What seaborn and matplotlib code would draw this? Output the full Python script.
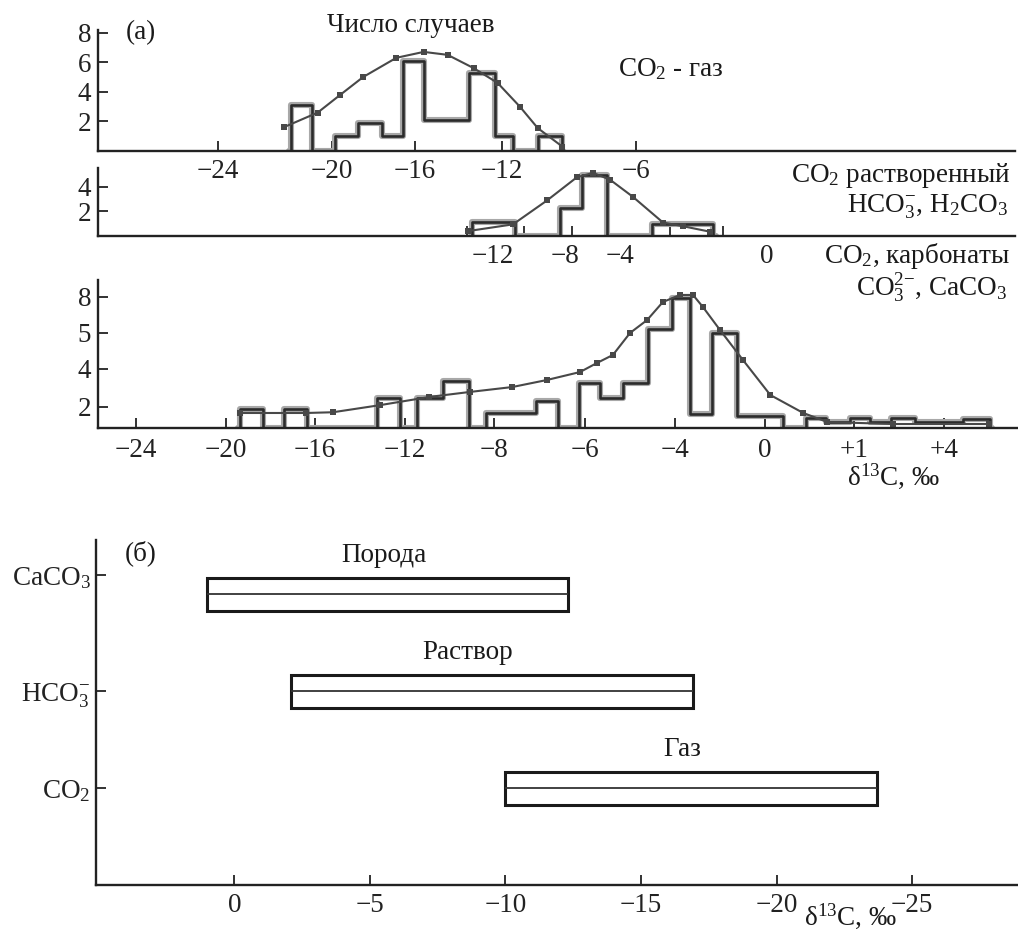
import numpy as np
import matplotlib
matplotlib.use("Agg")
import matplotlib.pyplot as plt
import seaborn as sns

# ---------------- данные ----------------
# (а) верх: CO2 - газ (границы столбцов и число случаев)
gas_edges = [-21.5, -21.45, -20.7, -19.85, -18.75, -17.6, -16.6, -15.6, -13.5, -12.3, -11.5, -10.4, -9.3, -9.25]
gas_counts = [0, 3.1, 0, 1.0, 1.9, 1.0, 6.1, 2.1, 5.3, 1.0, 0, 1.0, 0]
gas_curve_x = [-21.7, -20.5, -19.6, -18.5, -16.9, -15.6, -14.5, -13.3, -12.2, -11.2, -10.4, -9.3]
gas_curve_y = [1.6, 2.6, 3.8, 5.0, 6.3, 6.7, 6.5, 5.6, 4.6, 3.0, 1.55, 0.3]

# (а) середина: CO2 растворенный
diss_edges = [-13.25, -13.17, -10.78, -8.28, -6.76, -4.95, -3.13, -1.47, -1.4]
diss_counts = [0, 1.15, 0, 2.25, 5.0, 0, 0.95, 0]
diss_curve_x = [-13.39, -10.89, -9.0, -7.13, -5.96, -4.73, -3.65, -2.83, -2.29, -1.55]
diss_curve_y = [0.4, 0.95, 2.9, 4.8, 5.15, 4.6, 3.2, 1.1, 0.8, 0.35]

# (а) низ: CO2, карбонаты
carb_edges = [-19.45, -19.37, -18.34, -17.39, -16.36, -13.24, -12.22, -11.46, -10.29, -9.12,
              -8.36, -7.08, -6.59, -6.13, -5.67, -5.16, -4.6, -4.07, -3.33, -2.36,
              -1.24, 0.2, 0.46, 0.69, 0.96, 1.53, 2.23, 3.03, 4.63, 5.53, 5.6]
carb_counts = [0, 1.85, 0, 1.85, 0, 2.47, 0, 2.47, 3.37, 0,
               1.43, 2.32, 0, 3.26, 2.47, 3.26, 5.3, 7.92, 1.33, 5.0,
               1.14, 0, 0.95, 0.57, 0.95, 0.57, 0.95, 0.57, 0.86, 0]
carb_curve_x = [-19.37, -16.4, -15.2, -13.1, -10.9, -9.1, -7.6, -6.84, -6.11, -5.73, -5.38, -5.0, -4.62,
                -4.27, -3.78, -3.2, -2.76, -2.0, -0.98, 0.06, 0.43, 0.70, 2.3, 5.5]
carb_curve_y = [1.43, 1.43, 1.5, 2.1, 2.53, 2.79, 3.05, 3.42, 3.84, 4.17, 4.39, 5.0, 6.08,
                7.58, 8.17, 8.17, 7.17, 5.25, 4.25, 2.63, 1.43, 0.57, 0.38, 0.38]

# подписи осей (шкалы на рисунке неравномерные)
top_ticks = [-24, -20, -16, -12, -6]
mid_ticks = [-12, -8, -4, 0]
bot_ticks = [-24, -20, -16, -12, -8, -6, -4, 0, 1, 4]
bot_ticklabels = ['−24', '−20', '−16', '−12', '−8', '−6', '−4', '0', '+1', '+4']
bot_yticks = [2, 4, 5, 8]

# (б) диапазоны δ13C
b_names = ['Газ', 'Раствор', 'Порода']
b_species = ['CO$_2$', 'HCO$_3^{-}$', 'CaCO$_3$']
b_from = [-10.0, -2.1, 1.0]
b_to = [-23.7, -16.9, -12.3]

# ---------------- оформление ----------------
FS = 19.5
sns.set_style('ticks')
plt.rcParams['font.family'] = ['Liberation Serif', 'DejaVu Serif']
plt.rcParams['mathtext.fontset'] = 'custom'
plt.rcParams['mathtext.rm'] = 'Liberation Serif'
plt.rcParams['mathtext.it'] = 'Liberation Serif:italic'
plt.rcParams['font.size'] = FS
plt.rcParams['axes.unicode_minus'] = True

W, H = 1018, 933
fig = plt.figure(figsize=(W / 100, H / 100), dpi=100)


def box(left, right, top, bottom):
    return fig.add_axes([left / W, 1 - bottom / H, (right - left) / W, (bottom - top) / H])


def piecewise(vals, pos):
    vals = np.asarray(vals, float)
    pos = np.asarray(pos, float)

    def lin(x, xp, fp):
        x = np.asarray(x, float)
        y = np.interp(x, xp, fp)
        s0 = (fp[1] - fp[0]) / (xp[1] - xp[0])
        s1 = (fp[-1] - fp[-2]) / (xp[-1] - xp[-2])
        y = np.where(x < xp[0], fp[0] + (x - xp[0]) * s0, y)
        y = np.where(x > xp[-1], fp[-1] + (x - xp[-1]) * s1, y)
        return y

    return (lambda x: lin(x, vals, pos)), (lambda p: lin(p, pos, vals))


def style(ax):
    sns.despine(ax=ax)
    for s in ('left', 'bottom'):
        ax.spines[s].set_linewidth(1.7)
        ax.spines[s].set_color('#222222')
    ax.tick_params(direction='in', length=7, width=1.3, colors='#222222', labelsize=FS)
    ax.set_facecolor('none')


def draw_hist(ax, edges, counts):
    # контур гистограммы ступенькой
    x = list(edges)
    y = list(counts) + [counts[-1]]
    for color, lw in (('#a8a8a8', 4.4), ('#2b2b2b', 1.9)):
        sns.lineplot(x=x, y=y, ax=ax, color=color, linewidth=lw, drawstyle='steps-post',
                     estimator=None, sort=False)


def draw_curve(ax, x, y):
    sns.lineplot(x=x, y=y, ax=ax, color='#484848', linewidth=1.5, marker='s',
                 markersize=4, markeredgewidth=0, sort=False, estimator=None)


def ftext(x, y, s, **kw):
    fig.text(x / W, 1 - y / H, s, va='center', fontsize=FS, color='#1a1a1a', **kw)


# ---- (а) верхняя панель ----
ax1 = box(98, 1015, 30, 151)
fwd, inv = piecewise(top_ticks, [218, 332, 415, 502, 636])
ax1.set_xscale('function', functions=(fwd, inv))
draw_hist(ax1, gas_edges, gas_counts)
draw_curve(ax1, gas_curve_x, gas_curve_y)
ax1.set_xlim(float(inv(98)), float(inv(1015)))
ax1.set_ylim(0, 8.18)
ax1.set_xticks(top_ticks)
ax1.set_xticklabels(['−24', '−20', '−16', '−12', '−6'])
ax1.set_yticks([2, 4, 6, 8])
ax1.minorticks_off()
style(ax1)
ax1.tick_params(axis='x', pad=6)
ax1.tick_params(axis='y', pad=5)
ax1.set(xlabel='', ylabel='')

# ---- (а) средняя панель ----
ax2 = box(98, 1015, 168, 236)
fwd, inv = piecewise(mid_ticks, [493, 565, 620, 767])
ax2.set_xscale('function', functions=(fwd, inv))
draw_hist(ax2, diss_edges, diss_counts)
draw_curve(ax2, diss_curve_x, diss_curve_y)
ax2.set_xlim(float(inv(98)), float(inv(1015)))
ax2.set_ylim(0, 5.55)
ax2.set_xticks(mid_ticks)
ax2.set_xticklabels(['−12', '−8', '−4', '0'])
ax2.set_xticks(inv(np.array([467, 524, 572, 620, 670, 723, 767])), minor=True)
ax2.set_yticks([2, 4])
ax2.yaxis.set_minor_locator(matplotlib.ticker.NullLocator())
style(ax2)
ax2.tick_params(axis='x', which='major', length=0, pad=6)
ax2.tick_params(axis='x', which='minor', direction='in', length=7, width=1.3)
ax2.tick_params(axis='y', pad=5)
ax2.set(xlabel='', ylabel='')

# ---- (а) нижняя панель ----
ax3 = box(98, 1018, 280, 428)
fwd, inv = piecewise(bot_ticks, [136, 226, 315, 405, 494, 585, 675, 765, 854, 944])
ax3.set_xscale('function', functions=(fwd, inv))
yf, yi = piecewise([0, 2, 4, 5, 8], [0, 21, 59, 95, 131])
ax3.set_yscale('function', functions=(yf, yi))
draw_hist(ax3, carb_edges, carb_counts)
draw_curve(ax3, carb_curve_x, carb_curve_y)
ax3.set_xlim(float(inv(98)), float(inv(1018)))
ax3.set_ylim(0, float(yi(148)))
ax3.set_xticks(bot_ticks)
ax3.set_xticklabels(bot_ticklabels)
ax3.set_yticks(bot_yticks)
ax3.set_yticklabels([str(v) for v in bot_yticks])
ax3.minorticks_off()
style(ax3)
ax3.tick_params(axis='x', pad=7)
ax3.tick_params(axis='y', pad=5)
ax3.set(xlabel='', ylabel='')

# ---- (б) ----
ax4 = box(96, 1018, 540, 885)
ypos = np.array([1.0, 2.0, 3.0])
lo = np.array(b_from)
hi = np.array(b_to)
ax4.barh(ypos, hi - lo, left=lo, height=0.34, color='white', edgecolor='#1a1a1a', linewidth=2.2)
ax4.hlines(ypos, lo, hi, color='#333333', linewidth=1.3)
ax4.set_xlim(5.1, -28.9)
ax4.set_ylim(0, 3.56)
ax4.set_xticks([0, -5, -10, -15, -20, -25])
ax4.set_xticklabels(['0', '−5', '−10', '−15', '−20', '−25'])
ax4.set_yticks([1, 2, 3.2])
ax4.set_yticklabels(b_species)
style(ax4)
ax4.tick_params(axis='x', pad=6)
ax4.tick_params(axis='y', pad=4)
for name, xc, yc in zip(b_names, [-16.5, -8.6, -5.5], ypos + 0.4):
    ax4.text(xc, yc, name, ha='center', va='center', fontsize=FS, color='#1a1a1a')
ax4.text(3.45, 3.42, '(б)', ha='center', va='center', fontsize=FS, color='#1a1a1a')

# ---- подписи ----
ftext(141, 33, '(а)', ha='center')
ftext(411, 25, 'Число случаев', ha='center')
ftext(618, 69, 'CO$_2$ - газ', ha='left')
ftext(1010, 176, 'CO$_2$ растворенный', ha='right')
ftext(1008, 207, 'HCO$_3^{-}$, H$_2$CO$_3$', ha='right')
ftext(1010, 256, 'CO$_2$, карбонаты', ha='right')
ftext(1007, 288, 'CO$_3^{2{-}}$, CaCO$_3$', ha='right')
ftext(893, 476, 'δ$^{13}$C, ‰', ha='center')
ftext(850, 916, 'δ$^{13}$C, ‰', ha='center')

fig.savefig('out.png', dpi=100)
